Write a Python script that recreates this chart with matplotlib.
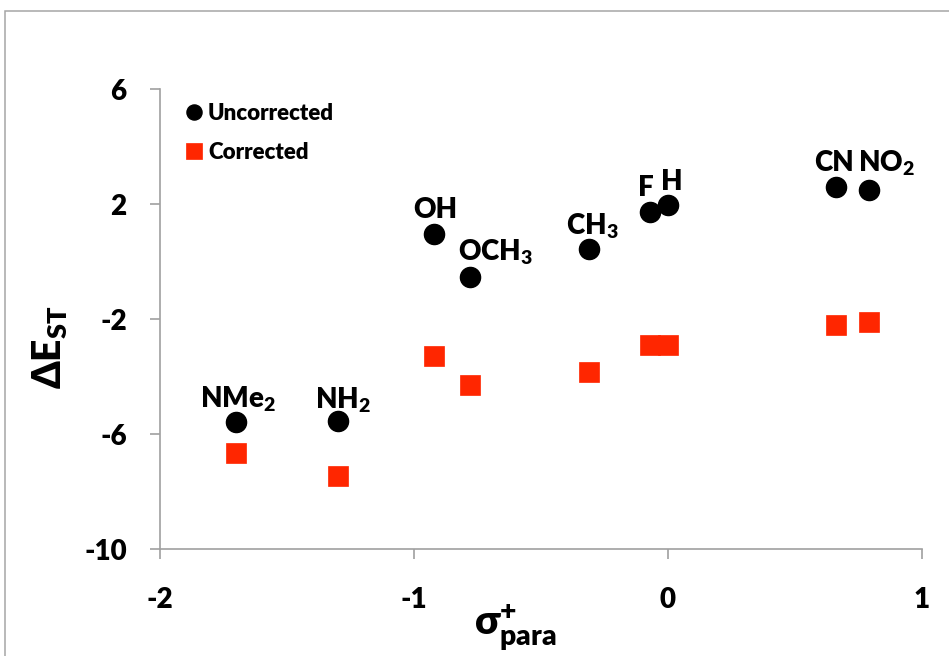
import matplotlib
matplotlib.use("Agg")
import matplotlib.pyplot as plt
from matplotlib.patches import Rectangle

substituents = ["NMe$_2$", "NH$_2$", "OH", "OCH$_3$", "CH$_3$", "F", "H", "CN", "NO$_2$"]
sigma_para = [-1.70, -1.30, -0.92, -0.78, -0.31, -0.07, 0.00, 0.66, 0.79]
uncorrected = [-5.57, -5.54, 0.98, -0.53, 0.46, 1.73, 1.99, 2.60, 2.49]
corrected = [-6.64, -7.46, -3.28, -4.30, -3.83, -2.90, -2.90, -2.20, -2.10]
x_ticks = [-2, -1, 0, 1]
y_ticks = [-10, -6, -2, 2, 6]
series_names = ["Uncorrected", "Corrected"]

# label offsets in pixels (dx, dy to baseline) for each substituent label
label_offsets = [(2, 14), (5, 13), (1, 16), (26, 17), (3, 14), (-4, 16), (4, 15), (-2, 16), (18, 19)]

W_TXT = 'heavy'
plt.rcParams['font.family'] = ['Lato', 'DejaVu Sans']
plt.rcParams['font.weight'] = W_TXT
plt.rcParams['mathtext.fontset'] = 'custom'
plt.rcParams['mathtext.rm'] = 'Lato:heavy'
plt.rcParams['mathtext.it'] = 'Lato:heavy'
plt.rcParams['mathtext.bf'] = 'Lato:heavy'

W, H = 949, 656
fig = plt.figure(figsize=(W / 100, H / 100), dpi=100)
fig.patch.set_facecolor('white')

# outer chart border (cropped at right/bottom)
fig.patches.append(Rectangle((5 / W, -0.1), 1.2, 1.1 - 11 / H,
                             transform=fig.transFigure, fill=False,
                             edgecolor='#A6A6A6', linewidth=1.1, zorder=0))

ax = fig.add_axes([160 / W, 1 - 549.3 / H, 762 / W, 460 / H])
ax.set_xlim(-2, 1)
ax.set_ylim(-10, 6)
ax.set_xticks(x_ticks)
ax.set_yticks(y_ticks)
ax.set_xticklabels([str(v) for v in x_ticks])
ax.set_yticklabels([str(v) for v in y_ticks])
for s in ['top', 'right']:
    ax.spines[s].set_visible(False)
for s in ['left', 'bottom']:
    ax.spines[s].set_color('#A0A0A0')
    ax.spines[s].set_linewidth(1.2)
    ax.spines[s].set_clip_on(False)
ax.tick_params(axis='both', direction='out', length=7, width=1.2, color='#A0A0A0',
               labelsize=20)
ax.tick_params(axis='y', pad=17)
ax.tick_params(axis='x', pad=20)
for lab in ax.get_xticklabels() + ax.get_yticklabels():
    lab.set_fontweight(W_TXT)

red = '#FF2600'
ax.plot(sigma_para, corrected, linestyle='none', marker='s', markersize=15,
        markerfacecolor=red, markeredgecolor=red, markeredgewidth=0.5,
        label=series_names[1], zorder=3, clip_on=False)
ax.plot(sigma_para, uncorrected, linestyle='none', marker='o', markersize=14.5,
        markerfacecolor='black', markeredgecolor='black',
        label=series_names[0], zorder=4, clip_on=False)

for name, x, y, (dx, dy) in zip(substituents, sigma_para, uncorrected, label_offsets):
    ax.annotate(name, xy=(x, y), xytext=(dx, dy), textcoords='offset pixels',
                ha='center', va='baseline', fontsize=20, fontweight=W_TXT,
                color='black', zorder=5)

handles, labels = ax.get_legend_handles_labels()
order = [1, 0]
leg = ax.legend([handles[i] for i in order], [labels[i] for i in order],
                loc='upper left', bbox_to_anchor=((178 - 160) / 762, (549.3 - 94) / 460),
                frameon=False, markerscale=0.75, handlelength=0.6,
                handletextpad=0.35, labelspacing=0.8, borderaxespad=0,
                prop={'size': 16, 'weight': W_TXT})

# axis titles
fig.text(50 / W, 1 - 347 / H, 'ΔE$_{ST}$', rotation=90, ha='center', va='center',
         fontsize=28, fontweight=W_TXT)
fig.text(515 / W, 1 - 628 / H, 'σ$^{+}_{para}$', ha='center', va='center',
         fontsize=29, fontweight=W_TXT)

fig.savefig('out.png', dpi=100, facecolor='white')
